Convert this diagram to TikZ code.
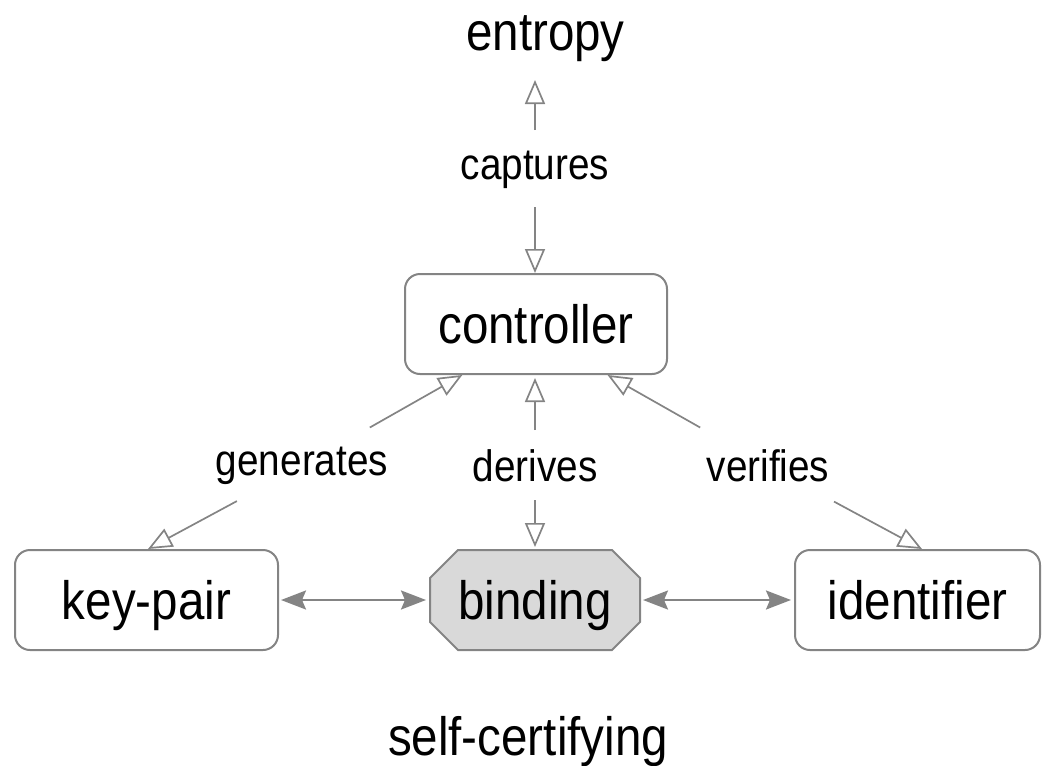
\documentclass[tikz,border=0pt]{standalone}
\usepackage{fontspec}
\setmainfont{Liberation Sans}[FakeStretch=0.88]
\usetikzlibrary{arrows.meta,shapes.misc,calc}
\definecolor{edge}{HTML}{848484}
\definecolor{bindfill}{HTML}{D9D9D9}
\tikzset{
  box/.style={draw=edge, line width=2pt, rounded corners=15pt, fill=white, minimum height=100pt, text height=39pt, text depth=0pt, font=\fontsize{54}{60}\selectfont},
  octbox/.style={draw=edge, line width=2pt, chamfered rectangle, chamfered rectangle xsep=14pt, chamfered rectangle ysep=14pt, fill=bindfill, minimum height=100pt, minimum width=210pt, inner sep=0pt, text height=39pt, text depth=0pt, font=\fontsize{54}{60}\selectfont},
  lbl/.style={inner sep=0pt, font=\fontsize{44}{48}\selectfont},
  big/.style={inner sep=0pt, anchor=base, font=\fontsize{54}{60}\selectfont},
  openarr/.style={draw=edge, line width=1.7pt, -{Triangle[open, length=24pt, width=20pt, line width=1.7pt]}},
  dblarr/.style={draw=edge, line width=2.2pt, {Stealth[length=25pt, width=19pt, inset=4pt]}-{Stealth[length=25pt, width=19pt, inset=4pt]}, shorten <=2pt, shorten >=3pt},
}
\begin{document}
\begin{tikzpicture}[x=1pt,y=-1pt]
\useasboundingbox (0,0) rectangle (1053,766);
\node[big] (entropy) at (545.5,50) {entropy};
\node[lbl] (captures) at (535,170) {captures};
\node[box, minimum width=262pt] (controller) at (536,324) {controller};
\node[lbl] (generates) at (302,466) {generates};
\node[lbl] (derives) at (535,466) {derives};
\node[lbl] (verifies) at (768,466) {verifies};
\node[box, minimum width=263pt] (keypair) at (146.5,600) {key-pair};
\node[octbox] (binding) at (535,600) {binding};
\node[box, minimum width=245pt] (identifier) at (917.5,600) {identifier};
\node[big] (selfcert) at (528,755) {self-certifying};
\coordinate (ctrlL) at ($(controller.south west)!0.221!(controller.south east)$);
\coordinate (ctrlR) at ($(controller.south west)!0.771!(controller.south east)$);
\coordinate (entB) at (captures.center |- 0,80);
% captures
\draw[openarr, shorten <=40pt] (captures.center) -- (entB);
\draw[openarr, shorten <=37pt] (captures.center) -- (captures.center |- controller.north);
% derives
\draw[openarr, shorten <=36pt, shorten >=3pt] (derives.center) -- (derives.center |- controller.south);
\draw[openarr, shorten <=34pt, shorten >=2pt] (derives.center) -- (derives.center |- binding.north);
% generates
\draw[openarr, shorten <=78pt] (generates.center) -- (ctrlL);
\draw[openarr, shorten <=74pt] (generates.center) -- ($(keypair.north)+(1.5,0)$);
% verifies
\draw[openarr, shorten <=78pt] (verifies.center) -- (ctrlR);
\draw[openarr, shorten <=75pt] (verifies.center) -- ($(identifier.north)+(4.5,0)$);
% horizontal
\draw[dblarr] (keypair.east) -- (binding.west);
\draw[dblarr] (binding.east) -- (identifier.west);
\end{tikzpicture}
\end{document}
